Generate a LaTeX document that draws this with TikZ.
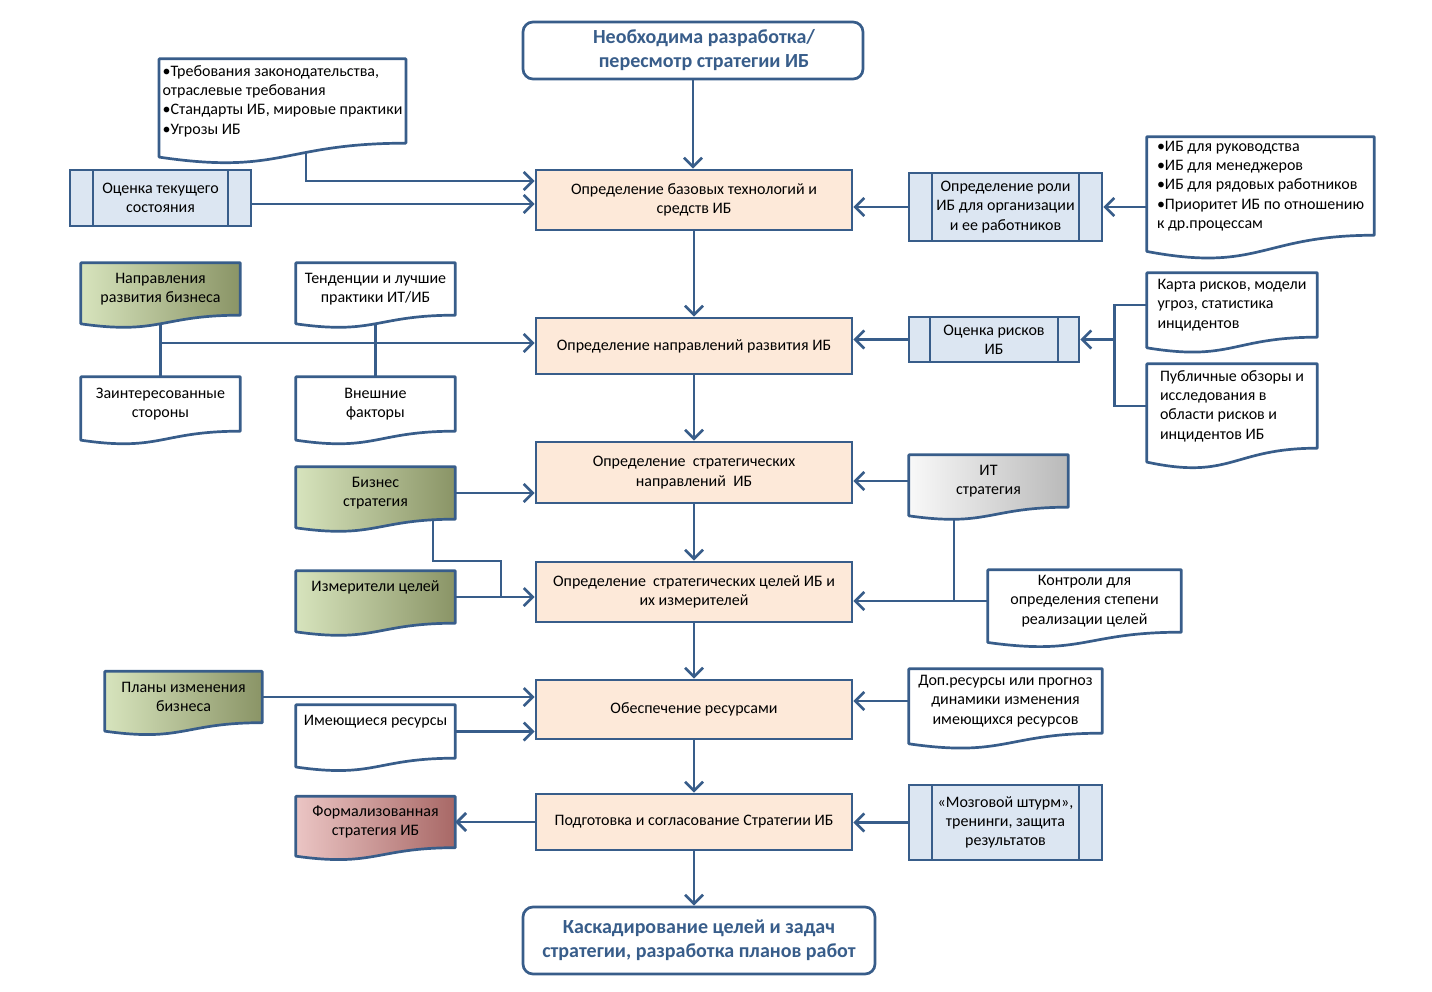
\documentclass[tikz,border=0pt]{standalone}
\usepackage{fontspec}
\setmainfont{Carlito}
\usetikzlibrary{arrows.meta,calc}

\definecolor{frame}{HTML}{385D8A}
\definecolor{peach}{HTML}{FDE9D9}
\definecolor{paleblue}{HTML}{DCE6F2}
\definecolor{olivelt}{HTML}{D7E4BD}
\definecolor{olivedk}{HTML}{8A9466}
\definecolor{rosylt}{HTML}{EBC5C4}
\definecolor{rosydk}{HTML}{A86866}

\newcommand\boxfont{\fontsize{16}{19.3}\selectfont}
\newcommand\headfont{\fontsize{20}{24}\selectfont}

\pgfdeclarelayer{wires}
\pgfdeclarelayer{docs}
\pgfsetlayers{wires,docs,main}

% document shape: node is the text part, the wave hangs below it
\newcommand\docframe[2][fill=white]{%
  \begin{pgfonlayer}{docs}
    \path[docline,#1] (#2.north west) -- (#2.north east) -- (#2.south east)
      .. controls (#2.south) and ($(#2.north)!1.381!(#2.south)$)
      .. ($(#2.north west)!1.1646!(#2.south west)$) -- cycle;
  \end{pgfonlayer}}

\tikzset{
  stage/.style={rectangle, draw=frame, fill=peach, line width=2.7pt,
    minimum width=316pt, align=center, font=\boxfont},
  endpoint/.style={rectangle, rounded corners=10pt, draw=frame, fill=white,
    line width=2.7pt, align=center, text=frame, font=\headfont\bfseries},
  doc/.style={rectangle, inner ysep=0pt, align=center, font=\boxfont},
  docline/.style={draw=frame, fill=white, line width=2.7pt, line join=round},
  predef/.style={rectangle, draw=frame, fill=paleblue, line width=2.7pt,
    align=center, font=\boxfont,
    path picture={\draw[frame, line width=2.7pt]
      ([xshift=#1]path picture bounding box.north west) -- ([xshift=#1]path picture bounding box.south west)
      ([xshift=-#1]path picture bounding box.north east) -- ([xshift=-#1]path picture bounding box.south east);}},
  predef/.default=23pt,
  wire/.style={draw=frame, line width=2.7pt},
  flow/.style={wire, -{Straight Barb[length=9pt,width=18pt]}},
}

\begin{document}
\begin{tikzpicture}[x=1pt, y=-1pt]
  \useasboundingbox (0,0) rectangle (1432,992);

  % main chain
  \node[endpoint, minimum width=340pt, minimum height=57pt] (start) at (693,50.5) {\hspace*{22pt}Необходима разработка/\\\hspace*{22pt}пересмотр стратегии ИБ};
  \node[stage, minimum height=60pt] (s1) at (694,200) {Определение базовых технологий и\\средств ИБ};
  \node[stage, minimum height=56pt] (s2) at (694,346) {Определение направлений развития ИБ};
  \node[stage, minimum height=61pt] (s3) at (694,472.5) {Определение\ \ стратегических\\направлений\ \ ИБ};
  \node[stage, minimum height=60pt] (s4) at (694,592) {Определение\ \ стратегических целей ИБ и\\их измерителей};
  \node[stage, minimum height=59pt] (s5) at (694,709.5) {Обеспечение ресурсами};
  \node[stage, minimum height=56pt] (s6) at (694,822) {Подготовка и согласование Стратегии ИБ};
  \node[endpoint, minimum width=352pt, minimum height=67pt] (finish) at (699,940.5) {Каскадирование целей и задач\\стратегии, разработка планов работ};

  % row 1
  \node[doc, minimum width=245pt, minimum height=84pt, align=left] (law) at (282.5,101) {•Требования законодательства,\\отраслевые требования\\•Стандарты ИБ, мировые практики\\•Угрозы ИБ};
  \docframe{law}
  \node[predef, minimum width=181pt, minimum height=56pt] (curstate) at (160.5,198) {Оценка текущего\\состояния};
  \node[predef, minimum width=193pt, minimum height=68pt] (role) at (1005.5,207) {Определение роли\\ИБ для организации\\и ее работников};
  \node[doc, minimum width=227pt, minimum height=96pt, inner ysep=4pt, align=left] (audience) at (1260.5,186) {•ИБ для руководства\\•ИБ для менеджеров\\•ИБ для рядовых работников\\•Приоритет ИБ по отношению\\к др.процессам};
  \docframe{audience}

  % row 2
  \node[doc, minimum width=159pt, minimum height=52pt] (bizdir) at (160.5,289) {Направления\\развития бизнеса};
  \docframe[left color=olivelt, right color=olivedk]{bizdir}
  \node[doc, minimum width=159pt, minimum height=52pt] (trends) at (375.5,289) {Тенденции и лучшие\\практики ИТ/ИБ};
  \docframe{trends}
  \node[doc, minimum width=159pt, minimum height=54pt] (stake) at (160.5,404) {Заинтересованные\\стороны};
  \docframe{stake}
  \node[doc, minimum width=159pt, minimum height=54pt] (extern) at (375.5,404) {Внешние\\факторы};
  \docframe{extern}
  \node[predef=21pt, minimum width=170pt, minimum height=45pt] (risk) at (994,339.5) {Оценка рисков\\ИБ};
  \node[doc, minimum width=170pt, minimum height=64pt, align=left] (riskmap) at (1232,305) {Карта рисков, модели\\угроз, статистика\\инцидентов};
  \docframe{riskmap}
  \node[doc, minimum width=170pt, minimum height=84pt, align=left] (surveys) at (1232,406) {Публичные обзоры и\\исследования в\\области рисков и\\инцидентов ИБ};
  \docframe{surveys}

  % row 3
  \node[doc, minimum width=159pt, minimum height=52pt] (bizstrat) at (375.5,493) {Бизнес\\стратегия};
  \docframe[left color=olivelt, right color=olivedk]{bizstrat}
  \node[doc, minimum width=159pt, minimum height=52pt] (itstrat) at (988.5,481) {ИТ\\стратегия};
  \docframe[left color=gray!5, right color=gray!55]{itstrat}
  \node[doc, minimum width=159pt, minimum height=52pt, text depth=22pt] (metrics) at (375.5,597) {Измерители целей};
  \docframe[left color=olivelt, right color=olivedk]{metrics}
  \node[doc, minimum width=193pt, minimum height=62pt] (controls) at (1084.5,601) {Контроли для\\определения степени\\реализации целей};
  \docframe{controls}

  % row 5
  \node[doc, minimum width=157pt, minimum height=51pt] (bizplans) at (183.5,697) {Планы изменения\\бизнеса};
  \docframe[left color=olivelt, right color=olivedk]{bizplans}
  \node[doc, minimum width=159pt, minimum height=53pt, text depth=22pt] (resources) at (375.5,731.5) {Имеющиеся ресурсы};
  \docframe{resources}
  \node[doc, minimum width=193pt, minimum height=64pt] (extra) at (1005.5,701) {Доп.ресурсы или прогноз\\динамики изменения\\имеющихся ресурсов};
  \docframe{extra}

  % row 6
  \node[doc, minimum width=159pt, minimum height=51pt] (formal) at (375.5,822) {Формализованная\\стратегия ИБ};
  \docframe[left color=rosylt, right color=rosydk]{formal}
  \node[predef, minimum width=193pt, minimum height=75pt] (brainstorm) at (1005.5,822.5) {«Мозговой штурм»,\\тренинги, защита\\результатов};

  \begin{pgfonlayer}{wires}
    \foreach \a/\b in {start/s1, s1/s2, s2/s3, s3/s4, s4/s5, s5/s6, s6/finish}
      \draw[flow] (\a.south) -- (\a.south |- \b.north);

    \draw[flow] ([xshift=23.5pt]law.south) |- ([yshift=19pt]s1.west);
    \draw[flow] ([yshift=-4pt]s1.west -| curstate.east) -- ([yshift=-4pt]s1.west);
    \draw[flow] (role.west) -- (role.west -| s1.east);
    \draw[flow] (audience.west |- role.east) -- (role.east);

    \draw[wire] (bizdir.south) -- (stake.north);
    \draw[wire] (trends.south) -- (extern.north);
    \draw[flow] ([yshift=3pt]s2.west -| bizdir.south) -- ([yshift=3pt]s2.west);
    \draw[flow] (risk.west) -- (risk.west -| s2.east);
    \coordinate (riskjoin) at ([xshift=34pt]risk.east);
    \draw[wire] (riskmap.west) -| (riskjoin);
    \draw[wire] (surveys.west) -| (riskjoin);
    \draw[flow] (riskjoin) -- (risk.east);

    \draw[flow] (bizstrat.east) -- (bizstrat.east -| s3.west);
    \draw[flow] (itstrat.west) -- (itstrat.west -| s3.east);
    \coordinate (bend) at (501,561);
    \draw[wire] ([xshift=57.5pt]bizstrat.south) |- (bend) -- (bend |- metrics.east);
    \draw[flow] (metrics.east) -- (metrics.east -| s4.west);
    \draw[wire] ([xshift=-34.5pt]itstrat.south) |- (controls.west);
    \draw[flow] (controls.west) -- (controls.west -| s4.east);

    \draw[flow] (bizplans.east) -- (bizplans.east -| s5.west);
    \draw[flow] (resources.east) -- (resources.east -| s5.west);
    \draw[flow] (extra.west) -- (extra.west -| s5.east);

    \draw[flow] (s6.west) -- (s6.west -| formal.east);
    \draw[flow] (brainstorm.west) -- (brainstorm.west -| s6.east);
  \end{pgfonlayer}
\end{tikzpicture}
\end{document}
